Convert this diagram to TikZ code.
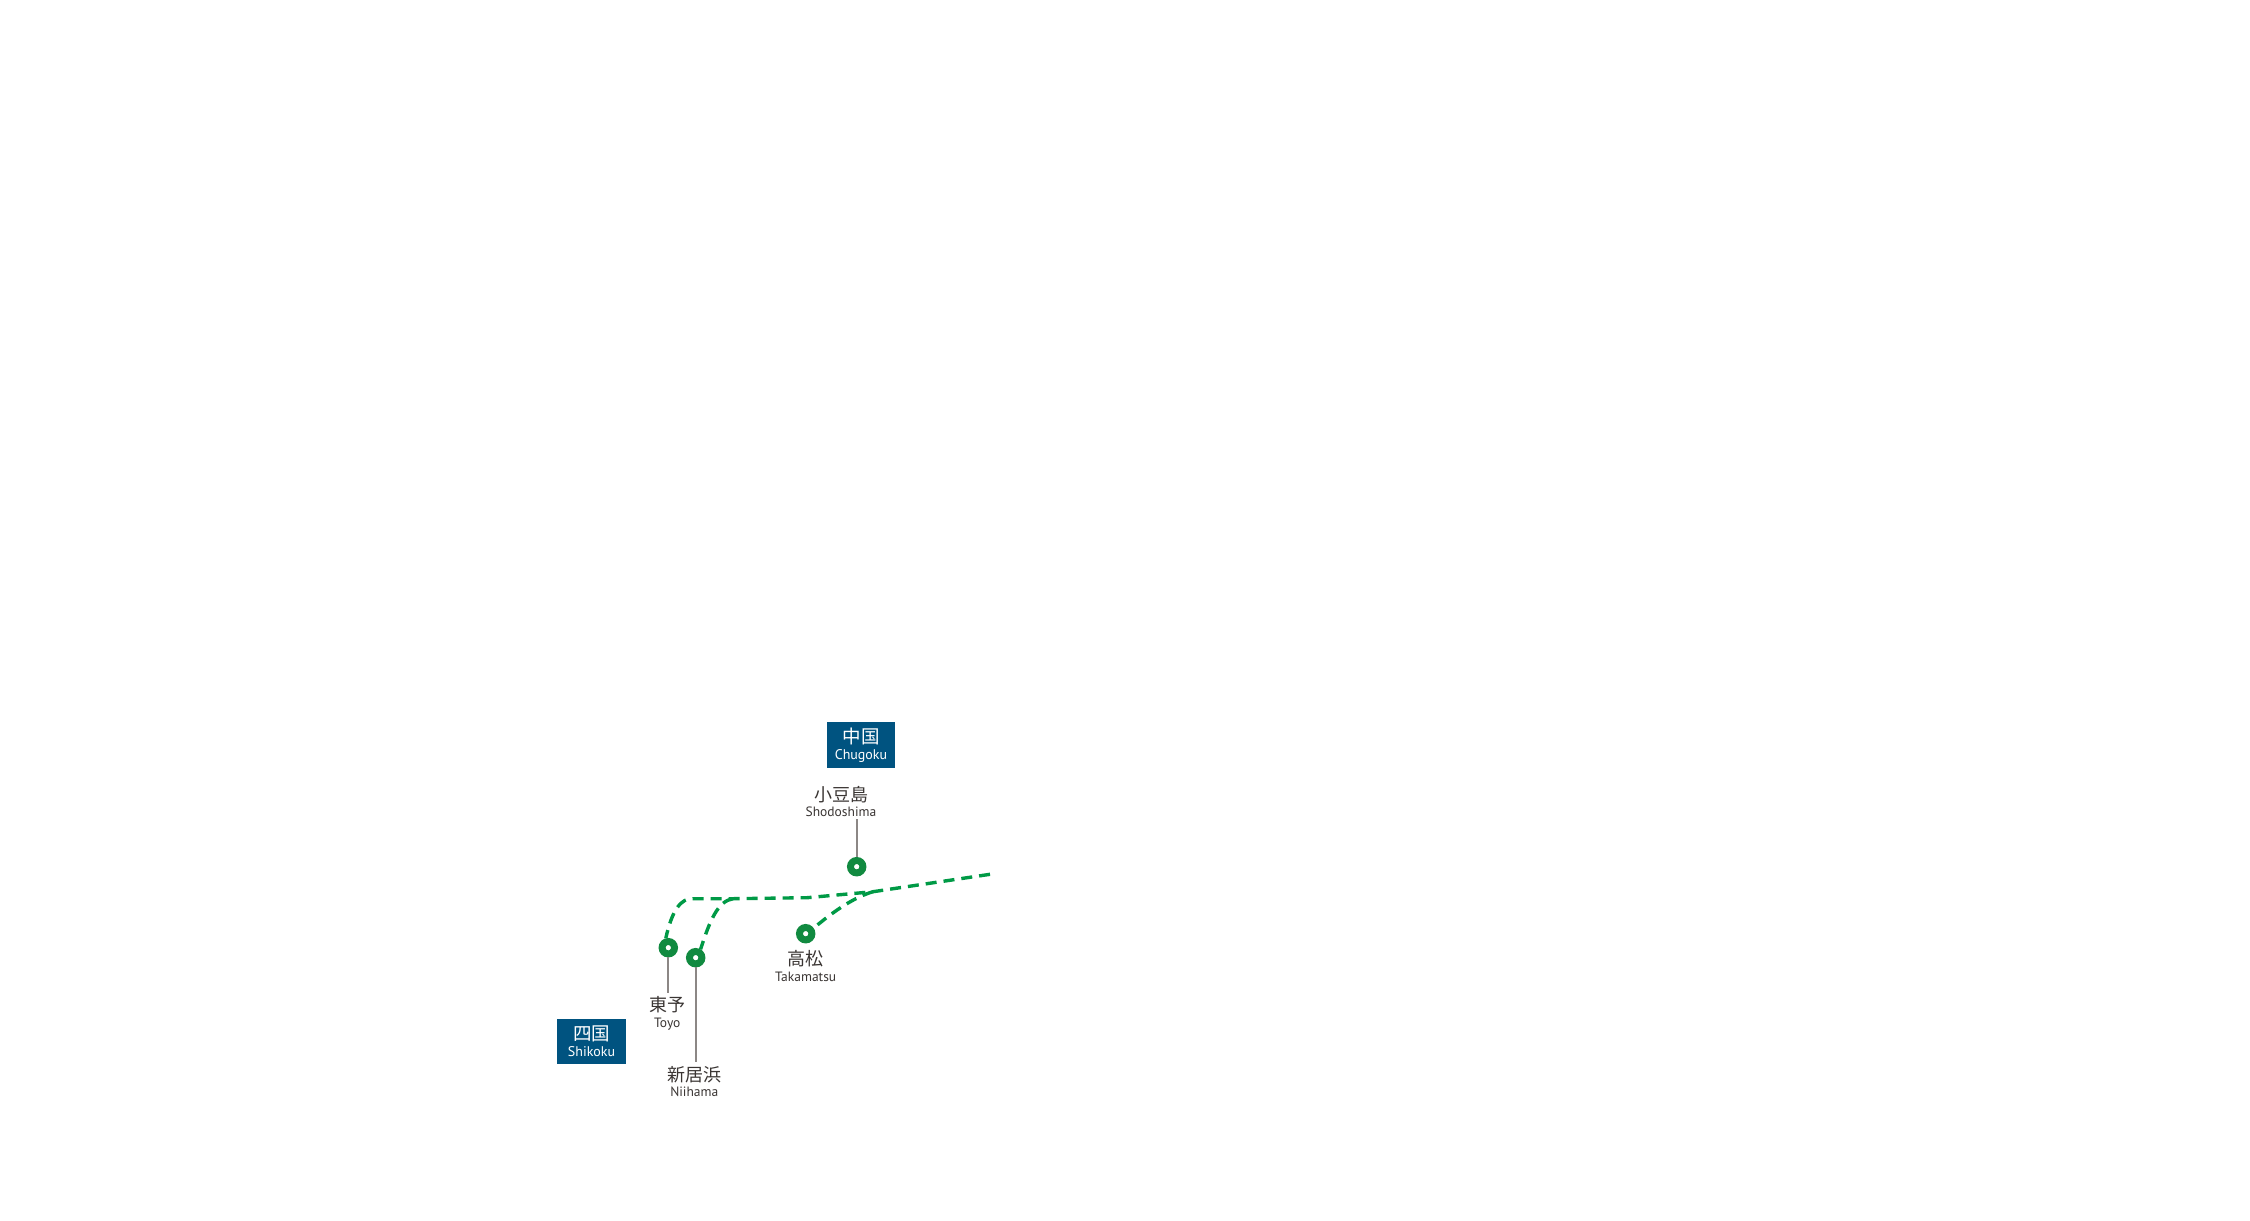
\documentclass[tikz,border=0pt]{standalone}
\usepackage{fontspec}
\setmainfont{PT Sans}
\newfontfamily\jpfont{Noto Sans CJK JP}
\definecolor{regionblue}{HTML}{005380}
\definecolor{routegreen}{HTML}{009A46}
\definecolor{stopgreen}{HTML}{118A40}
\definecolor{leadergray}{HTML}{8C8785}
\definecolor{labeltext}{HTML}{3A3533}
\newcommand{\stnlabel}[2]{{\jpfont\fontsize{18}{18}\selectfont #1}\\[3.5pt]{\fontsize{13.5}{14}\selectfont #2}}
\newcommand{\regionlabel}[2]{{\jpfont\fontsize{18.5}{18.5}\selectfont #1}\\[4.5pt]{\fontsize{14}{14}\selectfont #2}}
\tikzset{
  regionbox/.style={fill=regionblue,text=white,minimum width=68.5pt,minimum height=45.5pt,inner sep=0pt,align=center},
  stationlabel/.style={text=labeltext,inner sep=0pt,align=center},
  stopmark/.style={circle,draw=stopgreen,line width=7pt,fill=white,minimum size=12.4pt,inner sep=0pt,outer sep=3.5pt},
  route/.style={draw=routegreen,line width=3.4pt,dash pattern=on 11pt off 7pt},
  leader/.style={draw=leadergray,line width=1.7pt}
}
\begin{document}
\begin{tikzpicture}[x=1pt,y=-1pt]
\useasboundingbox (0,0) rectangle (2250,1220);
\fill[white] (0,0) rectangle (2250,1220);
\node[regionbox] (chugoku) at (861,745) {\regionlabel{中国}{Chugoku}};
\node[regionbox] (shikoku) at (591.5,1041.3) {\regionlabel{四国}{Shikoku}};
\coordinate (east) at (990,874.3);
\coordinate (junctionE) at (873,891.7);
\coordinate (junctionW) at (733,898.7);
\coordinate (bendW) at (693,898.7);
\coordinate (midLine) at (807,897.7);
\node[stopmark] (shodo) at (856.7,866.7) {};
\node[stopmark] (taka) at (805.7,933.7) {};
\node[stopmark] (toyo) at (668.3,947.7) {};
\node[stopmark] (nii) at (695.7,957.7) {};
\draw[route] (east) -- (junctionE) -- (midLine) -- (junctionW) -- (bendW) .. controls (681,898) and (672,910) .. (toyo.105);
\draw[route] (junctionW) .. controls (718,901) and (710,920) .. (nii.60);
\draw[route] (junctionE) .. controls (855,897) and (835,910) .. (taka.35);
\node[stationlabel] (lshodo) at (841,801.3) {\stnlabel{小豆島}{Shodoshima}};
\node[stationlabel] (ltaka) at (805.7,965.8) {\stnlabel{高松}{Takamatsu}};
\node[stationlabel] (ltoyo) at (667.3,1013.3) {\stnlabel{東予}{Toyo}};
\node[stationlabel] (lnii) at (694.3,1081.3) {\stnlabel{新居浜}{Niihama}};
\draw[leader,shorten >=2.5pt] (shodo.north) -- (shodo.north |- lshodo.south);
\draw[leader,shorten >=3pt] (toyo.south) -- (toyo.south |- ltoyo.north);
\draw[leader,shorten >=4pt] (nii.south) -- (nii.south |- lnii.north);
\end{tikzpicture}
\end{document}
